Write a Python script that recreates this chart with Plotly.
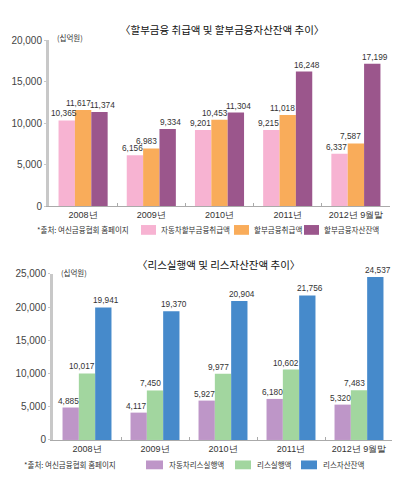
import plotly.graph_objects as go

# data (unit: 십억원)
years = ['2008년', '2009년', '2010년', '2011년', '2012년 9월말']

auto_installment = [10365, 6156, 9201, 9215, 6337]
installment = [11617, 6983, 10453, 11018, 7587]
installment_assets = [11374, 9334, 11304, 16248, 17199]

auto_lease = [4885, 4117, 5927, 6180, 5320]
lease = [10017, 7450, 9977, 10602, 7483]
lease_assets = [19941, 19370, 20904, 21756, 24537]

top_names = ['자동차할부금융취급액', '할부금융취급액', '할부금융자산잔액']
bottom_names = ['자동차리스실행액', '리스실행액', '리스자산잔액']

top_title = '〈할부금융 취급액 및 할부금융자산잔액 추이〉'
bottom_title = '〈리스실행액 및 리스자산잔액 추이〉'
unit = '(십억원)'
source = '*출처: 여신금융협회 홈페이지'

top_colors = ['#F7B3D2', '#F9AC5A', '#9B568C']
bottom_colors = ['#BE96C8', '#A2D69F', '#468ACB']

W, H = 400, 478
NUM = 'Liberation Sans, Arial, sans-serif'
KR = 'Noto Sans CJK KR, sans-serif'


def px(x):
    return x / W


def py(y):
    return 1 - y / H


fig = go.Figure()
ann = []
shapes = []

# value labels: first one pushed left, last one pushed right, like the original
label_shift = [-19, -5, 19]

groups = [
    ([auto_installment, installment, installment_assets], top_names, top_colors, 'x', 'y'),
    ([auto_lease, lease, lease_assets], bottom_names, bottom_colors, 'x2', 'y2'),
]
for series, names, colors, xa, ya in groups:
    for i, (vals, name, col) in enumerate(zip(series, names, colors)):
        fig.add_trace(go.Bar(x=years, y=vals, name=name, marker=dict(color=col, line_width=0),
                             xaxis=xa, yaxis=ya, showlegend=False))
        for yr, v in zip(years, vals):
            ann.append(dict(x=yr, y=v, xref=xa, yref=ya, text=f'{v:,}', showarrow=False,
                            xanchor='center', yanchor='bottom', xshift=label_shift[i], yshift=0,
                            font=dict(family=NUM, size=8.3, color='#333')))

xax = dict(type='category', showline=True, linecolor='#aaa', linewidth=1, ticks='inside',
           tickson='boundaries', ticklen=3, tickcolor='#aaa', showgrid=False, tickangle=0,
           tickfont=dict(family=NUM, size=9, color='#333'), fixedrange=True)
yax = dict(dtick=5000, tickformat=',', showline=True, linecolor='#c8c8c8', linewidth=3,
           ticks='outside', ticklen=2, tickcolor='#c8c8c8', showgrid=False, zeroline=False,
           tickfont=dict(family=NUM, size=10, color='#444'), fixedrange=True)

fig.update_layout(
    width=W, height=H, margin=dict(l=0, r=0, t=0, b=0),
    paper_bgcolor='white', plot_bgcolor='white',
    barmode='group', bargap=0.28, bargroupgap=0,
    xaxis=dict(xax, domain=[px(41), px(382)], anchor='y'),
    yaxis=dict(yax, domain=[py(197), py(27)], range=[0, 20000], anchor='x'),
    xaxis2=dict(xax, domain=[px(45), px(385)], anchor='y2'),
    yaxis2=dict(yax, domain=[py(436), py(266)], range=[0, 25000], anchor='x2'),
)


def text(x, y, s, size, anchor='left', color='#333'):
    ann.append(dict(x=px(x), y=py(y), xref='paper', yref='paper', text=s, showarrow=False,
                    xanchor=anchor, yanchor='middle', font=dict(family=KR, size=size, color=color)))


# titles and units
text(214, 16, top_title, 10.5, 'center', '#111')
text(210, 256, bottom_title, 10.5, 'center', '#111')
text(47, 24, unit, 7.5)
text(51, 265, unit, 7.5)

# sources
text(27, 221, source, 7.5)
text(14, 461, source, 7.5)

# legends
top_leg = [(133, 148), (226, 241), (296, 311)]
bottom_leg = [(138, 155), (227, 243), (293, 309)]
for (x0, x1), name, col in zip(top_leg, top_names, top_colors):
    shapes.append(dict(type='rect', xref='paper', yref='paper', x0=px(x0), x1=px(x1),
                       y0=py(226), y1=py(216), fillcolor=col, line_width=0))
    text(x1 + 3, 221, name, 7.5)
for (x0, x1), name, col in zip(bottom_leg, bottom_names, bottom_colors):
    shapes.append(dict(type='rect', xref='paper', yref='paper', x0=px(x0), x1=px(x1),
                       y0=py(466), y1=py(457), fillcolor=col, line_width=0))
    text(x1 + 4, 461, name, 7.5)

fig.update_layout(annotations=ann, shapes=shapes)

fig.write_html('out.html')
